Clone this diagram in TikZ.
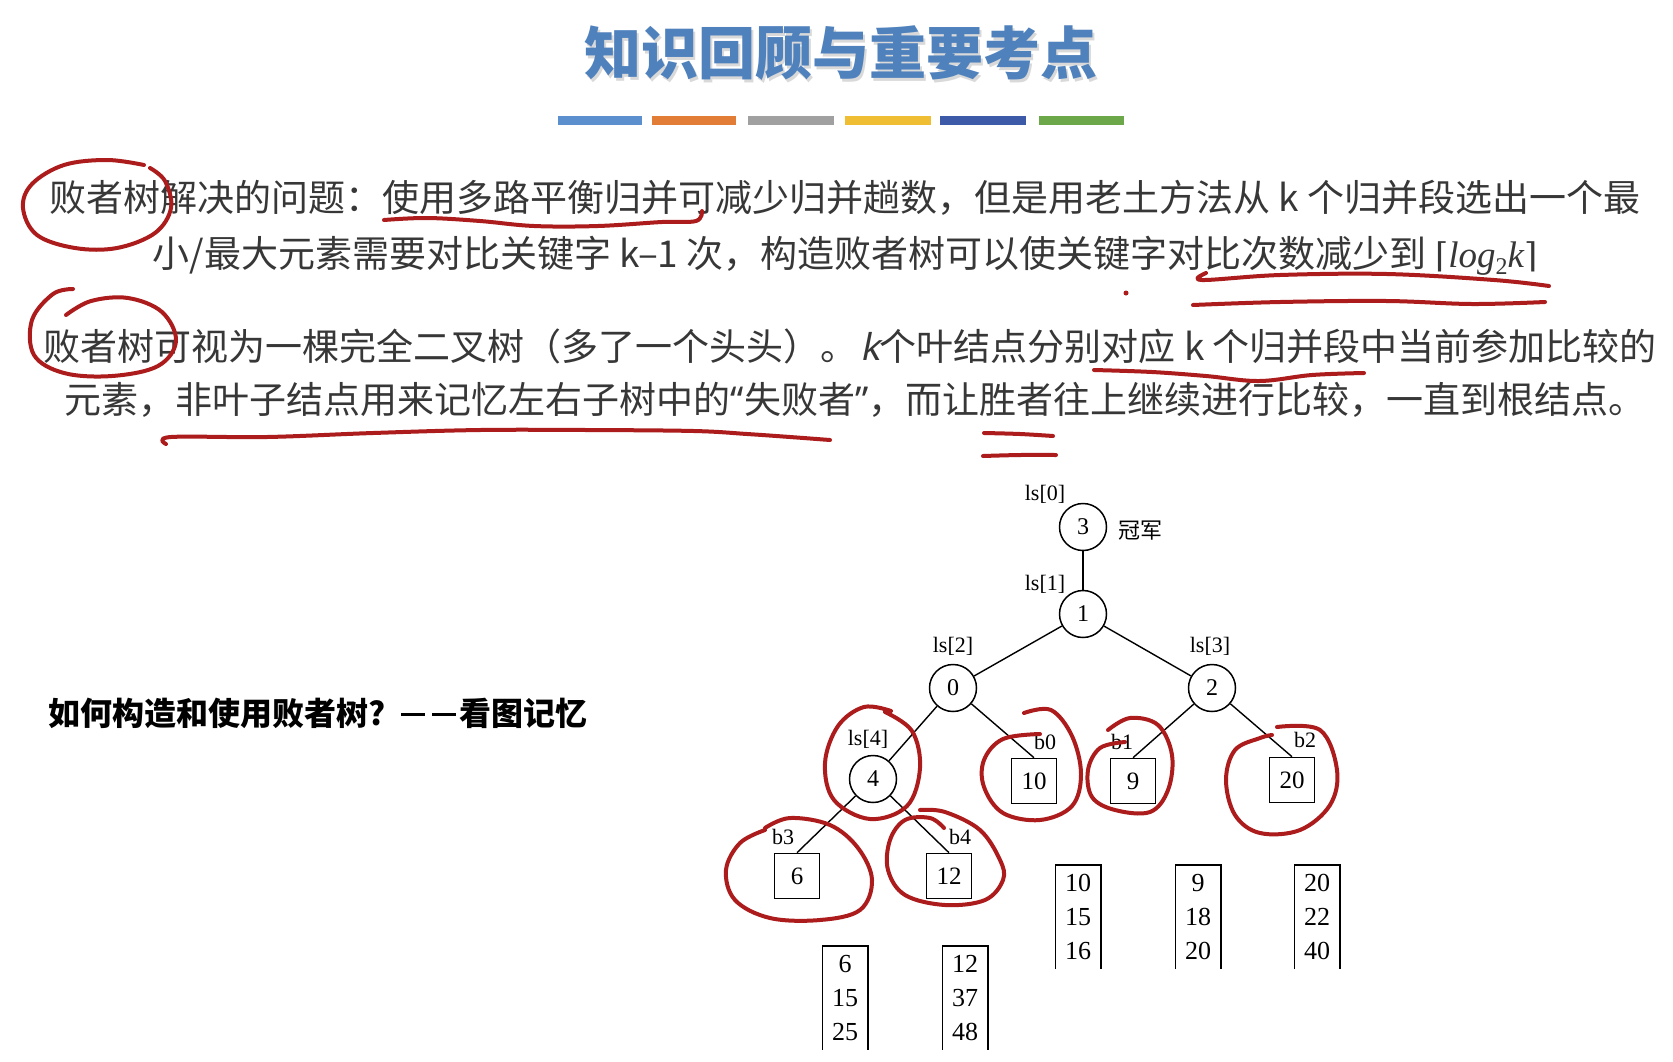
\documentclass[tikz,border=0pt]{standalone}
\usepackage{fontspec}
\setmainfont{Liberation Serif}
\newfontfamily\cjk{Noto Sans CJK SC}
\newfontfamily\latinit[FakeSlant=0.2]{Noto Sans}
\newfontfamily\latinup{Noto Sans}
\newfontfamily\djser{DejaVu Serif}
\definecolor{titleblue}{RGB}{79,129,189}
\definecolor{bodygray}{RGB}{55,55,55}
\definecolor{penred}{RGB}{172,28,28}
\definecolor{barA}{RGB}{91,143,206}
\definecolor{barB}{RGB}{226,125,55}
\definecolor{barC}{RGB}{160,160,160}
\definecolor{barD}{RGB}{240,190,50}
\definecolor{barE}{RGB}{60,90,168}
\definecolor{barF}{RGB}{108,168,74}
\tikzset{
  body/.style={font=\cjk\fontsize{37}{44}\selectfont, text=bodygray, inner sep=0pt, text height=30pt, text depth=7pt},
  circ/.style={circle, draw, line width=1.5pt, minimum size=47pt, inner sep=0pt, font=\fontsize{24}{28}\selectfont},
  leaf/.style={rectangle, draw, line width=1.6pt, minimum size=45pt, inner sep=0pt, font=\fontsize{25}{28}\selectfont},
  lab/.style={font=\fontsize{22}{26}\selectfont, inner sep=0pt},
  lst/.style={minimum width=45pt, minimum height=104pt, inner sep=0pt, align=center, font=\fontsize{26}{34}\selectfont},
  edge/.style={line width=1.4pt},
  listline/.style={line width=1.6pt},
  redpen/.style={draw=penred, line width=4pt, line cap=round, line join=round}
}
\begin{document}
\begin{tikzpicture}[x=1pt,y=-1pt]
\useasboundingbox (0,0) rectangle (1673,1061);
\fill[white] (0,0) rectangle (1673,1061);

% title
\node[font=\cjk\bfseries\fontsize{57}{62}\selectfont, text=black!15, inner sep=0pt] (titleshadow) at (843,56) {知识回顾与重要考点};
\node[font=\cjk\bfseries\fontsize{57}{62}\selectfont, text=titleblue, inner sep=0pt] (title) at (841,53) {知识回顾与重要考点};

% colour bars
\fill[barA] (558,116) rectangle (642,125);
\fill[barB] (652,116) rectangle (736,125);
\fill[barC] (748,116) rectangle (834,125);
\fill[barD] (845,116) rectangle (931,125);
\fill[barE] (940,116) rectangle (1026,125);
\fill[barF] (1039,116) rectangle (1124,125);

% paragraphs
\node[body] (p1a) at (845,200) {败者树解决的问题：使用多路平衡归并可减少归并趟数，但是用老土方法从 k 个归并段选出一个最};
\node[body] (p1b) at (845,256) {小/最大元素需要对比关键字 k–1 次，构造败者树可以使关键字对比次数减少到 {\djser\fontsize{34}{40}\selectfont ⌈}{\rmfamily\itshape log}\raisebox{-7pt}{\rmfamily\fontsize{24}{28}\selectfont 2}{\rmfamily\itshape k}{\djser\fontsize{34}{40}\selectfont ⌉}};
\node[body] (p2a) at (850,349) {败者树可视为一棵完全二叉树（多了一个头头）。\hspace{3pt}{\latinit k}个叶结点分别对应 k 个归并段中当前参加比较的};
\node[body] (p2b) at (855,402) {元素，非叶子结点用来记忆左右子树中的{\latinup “}失败者{\latinup ”}，而让胜者往上继续进行比较，一直到根结点。};

% side question
\node[font=\cjk\bfseries\fontsize{32}{36}\selectfont, text=black, anchor=west, inner sep=0pt] (q) at (48,713) {如何构造和使用败者树?\hspace{16pt}\rule[9pt]{24pt}{3pt}\hspace{7pt}\rule[9pt]{24pt}{3pt}\hspace{3pt}看图记忆};

% tree
\node[circ] (n3) at (1083,527) {3};
\node[circ] (n1) at (1083,614) {1};
\node[circ] (n0) at (953,688) {0};
\node[circ] (n2) at (1212,688) {2};
\node[circ] (n4) at (873,779) {4};
\node[leaf] (b10) at (1034,781) {10};
\node[leaf] (b9) at (1133,781) {9};
\node[leaf] (b20) at (1292,780) {20};
\node[leaf] (b6) at (797,876) {6};
\node[leaf] (b12) at (949,876) {12};

\node[lab] (ls0) at (1045,494) {ls[0]};
\node[lab] (ls1) at (1045,584) {ls[1]};
\node[lab] (ls2) at (953,646) {ls[2]};
\node[lab] (ls3) at (1210,646) {ls[3]};
\node[lab] (ls4) at (868,739) {ls[4]};
\node[lab] (lb0) at (1045,742) {b0};
\node[lab] (lb1) at (1122,742) {b1};
\node[lab] (lb2) at (1305,740) {b2};
\node[lab] (lb3) at (783,837) {b3};
\node[lab] (lb4) at (960,837) {b4};
\node[font=\cjk\fontsize{22}{26}\selectfont, inner sep=0pt] (champ) at (1140,531) {冠军};

\draw[edge] (n3) -- (n1);
\draw[edge] (n1) -- (n0);
\draw[edge] (n1) -- (n2);
\draw[edge] (n0) -- (n4);
\draw[edge] (n0) -- (b10.north);
\draw[edge] (n2) -- (b9.north);
\draw[edge] (n2) -- (b20.north);
\draw[edge] (n4) -- (b6.north);
\draw[edge] (n4) -- (b12.north);

% run lists
\node[lst] (L6) at (845,998) {6\\15\\25};
\node[lst] (L12) at (965,998) {12\\37\\48};
\node[lst] (L10) at (1078,917) {10\\15\\16};
\node[lst] (L9) at (1198,917) {9\\18\\20};
\node[lst] (L20) at (1317,917) {20\\22\\40};
\foreach \L in {L6,L12,L10,L9,L20}{
  \draw[listline] (\L.south west) -- (\L.north west) -- (\L.north east) -- (\L.south east);
}

% red annotations
\draw[redpen] plot[smooth, tension=0.6] coordinates {(144,165) (107,160) (64,165) (32,184) (23,208) (37,235) (75,248) (117,248) (155,233) (171,208) (165,181) (150,168)};
\draw[redpen] plot[smooth, tension=0.6] coordinates {(384,220) (427,218) (480,221) (534,226) (598,226) (662,222) (696,221) (702,211)};
\draw[redpen] plot[smooth, tension=0.6] coordinates {(1206,273) (1202,280) (1280,275) (1387,274) (1494,280) (1549,286)};
\draw[redpen] plot[smooth, tension=0.6] coordinates {(1193,305) (1280,302) (1387,301) (1472,304) (1545,302)};
\fill[penred] (1126,293) circle (2.5);
\draw[redpen] plot[smooth, tension=0.6] coordinates {(73,289) (53,294) (32,320) (34,355) (64,373) (112,376) (158,366) (176,341) (162,312) (128,298) (91,301) (66,315)};
\draw[redpen] plot[smooth, tension=0.6] coordinates {(1094,370) (1152,372) (1206,376) (1259,381) (1312,375) (1364,373)};
\draw[redpen] plot[smooth, tension=0.6] coordinates {(166,444) (171,437) (267,437) (373,433) (480,430) (587,430) (694,431) (747,434) (790,437) (830,440)};
\draw[redpen] plot[smooth, tension=0.6] coordinates {(984,433) (1020,434) (1053,436)};
\draw[redpen] plot[smooth, tension=0.6] coordinates {(983,456) (1020,455) (1056,455)};

\draw[redpen] plot[smooth, tension=0.6] coordinates {(891,711) (864,707) (838,726) (825,763) (834,800) (870,819) (907,806) (920,768) (912,731) (885,712)};
\draw[redpen] plot[smooth, tension=0.6] coordinates {(1024,713) (1051,710) (1072,736) (1081,774) (1072,806) (1040,820) (1003,813) (984,787) (984,760) (1003,739) (1040,734)};
\draw[redpen] plot[smooth, tension=0.6] coordinates {(1125,742) (1100,748) (1088,770) (1092,797) (1115,810) (1150,812) (1168,790) (1172,755) (1158,725) (1130,718) (1108,730)};
\draw[redpen] plot[smooth, tension=0.6] coordinates {(1277,727) (1320,730) (1337,770) (1330,805) (1300,830) (1260,833) (1235,815) (1226,780) (1235,750) (1260,738) (1272,735)};
\draw[redpen] plot[smooth, tension=0.6] coordinates {(765,828) (790,818) (830,825) (858,848) (872,880) (860,910) (820,920) (770,918) (735,900) (726,870) (740,843) (765,830)};
\draw[redpen] plot[smooth, tension=0.6] coordinates {(920,810) (945,812) (980,830) (1000,860) (1003,880) (985,900) (945,905) (905,895) (888,870) (890,840) (905,820) (930,818) (944,828)};
\end{tikzpicture}
\end{document}
